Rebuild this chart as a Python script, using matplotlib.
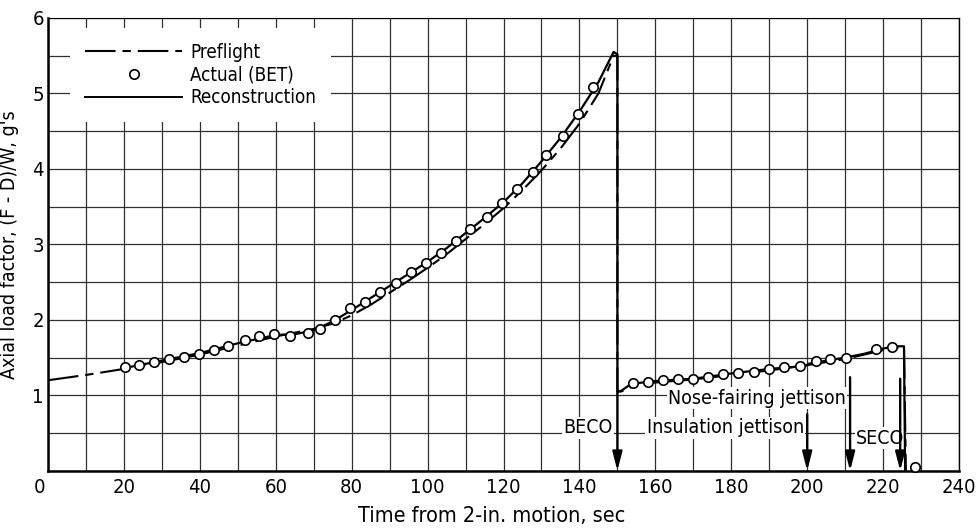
import matplotlib
matplotlib.use("Agg")
import matplotlib.pyplot as plt
import matplotlib.transforms as mtransforms
from matplotlib.lines import Line2D
import numpy as np

plt.rcParams['font.family'] = ['DejaVu Sans']
plt.rcParams['font.stretch'] = 'condensed'
plt.rcParams['lines.scale_dashes'] = False

# Actual (BET) points: time from 2-in. motion (sec) and axial load factor (g's)
actual_t = [20.3, 24, 28, 32, 35.8, 39.8, 43.6, 47.5, 51.8, 55.5, 59.5, 63.7, 68.5, 71.7,
            75.7, 79.6, 83.5, 87.5, 91.6, 95.6, 99.7, 103.5, 107.5, 111.3, 115.6, 119.5,
            123.5, 127.7, 131.3, 135.6, 139.5, 143.7,
            154, 158, 161.9, 165.9, 169.8, 173.8, 177.7, 181.8, 186, 190, 194, 198,
            202.3, 206, 210.2, 218.1, 222.3, 228.4]
actual_g = [1.37, 1.40, 1.44, 1.48, 1.51, 1.55, 1.60, 1.66, 1.73, 1.78, 1.81, 1.78, 1.83, 1.88,
            2.00, 2.16, 2.24, 2.37, 2.49, 2.64, 2.76, 2.89, 3.04, 3.20, 3.36, 3.55,
            3.73, 3.96, 4.19, 4.44, 4.73, 5.08,
            1.16, 1.18, 1.20, 1.21, 1.22, 1.24, 1.28, 1.30, 1.31, 1.35, 1.37, 1.39,
            1.46, 1.48, 1.50, 1.61, 1.64, 0.05]

# Reconstruction (solid)
recon_t = [20, 30, 40, 50, 60, 65, 70, 75, 80, 85, 90, 95, 100, 105, 110, 115, 120, 125,
           130, 135, 140, 145, 149, 150, 150, 151, 153, 155, 160, 170, 180, 190, 199.5,
           200.5, 210, 213, 215, 220, 223, 225.5, 225.8]
recon_g = [1.36, 1.46, 1.56, 1.69, 1.80, 1.81, 1.86, 1.98, 2.13, 2.29, 2.45, 2.61, 2.77,
           2.95, 3.15, 3.35, 3.56, 3.81, 4.10, 4.41, 4.76, 5.15, 5.55, 5.52, 1.05, 1.06,
           1.13, 1.16, 1.19, 1.22, 1.29, 1.35, 1.39, 1.42, 1.50, 1.53, 1.55, 1.62, 1.65,
           1.65, 0.0]

# Preflight prediction (long-short dash)
pre_t = [0, 10, 20, 30, 40, 50, 60, 70, 75, 80, 85, 90, 95, 100, 105, 110, 115, 120, 125,
         130, 135, 140, 145, 149, 150, 150, 151, 155, 160, 170, 180, 190, 200, 210, 220,
         225.5, 226]
pre_g = [1.20, 1.27, 1.35, 1.44, 1.54, 1.66, 1.78, 1.88, 1.95, 2.06, 2.20, 2.36, 2.52,
         2.69, 2.87, 3.07, 3.27, 3.48, 3.72, 3.98, 4.27, 4.60, 5.00, 5.50, 5.50, 1.05,
         1.05, 1.14, 1.17, 1.21, 1.27, 1.33, 1.40, 1.48, 1.60, 1.64, 0.0]

# Events: (label, arrow time, arrow top, label x, label y, label alignment)
events = [("BECO", 150, 1.05, 148.7, 0.57, 'right'),
          ("Insulation jettison", 200, 0.75, 157.7, 0.57, 'left'),
          ("Nose-fairing jettison", 211.3, 1.24, 163.3, 0.96, 'left'),
          ("SECO", 224.5, 1.22, 212.9, 0.43, 'left')]

pre_style = (0, (22, 5, 6, 5))

fig = plt.figure(figsize=(9.8, 5.29), dpi=100)
ax = fig.add_axes([0.049, 0.11, 0.9296, 0.856])

ax.plot(pre_t, pre_g, color='black', lw=1.5, linestyle=pre_style, zorder=5)
ax.plot(recon_t, recon_g, color='black', lw=1.6, zorder=5)
ax.plot(actual_t, actual_g, 'o', ms=6.8, mfc='white', mec='black', mew=1.2,
        zorder=6, clip_on=False)

for label, t, top, lx, ly, ha in events:
    ax.annotate('', xy=(t, 0), xytext=(t, top),
                arrowprops=dict(arrowstyle='-|>,head_length=0.7,head_width=0.18',
                                color='black', lw=1.7, mutation_scale=16,
                                shrinkA=0, shrinkB=0), zorder=4)
    ax.text(lx, ly, label, ha=ha, va='center', fontsize=14, zorder=3,
            bbox=dict(facecolor='white', edgecolor='none', pad=1))

ax.set_xlim(0, 240)
ax.set_ylim(0, 6)
ax.set_xticks(np.arange(0, 241, 20))
ax.set_xticks(np.arange(0, 241, 10), minor=True)
ax.set_yticks([1, 2, 3, 4, 5, 6])
ax.set_yticks(np.arange(0, 6.01, 0.5), minor=True)
ax.grid(True, which='both', color='#303030', lw=0.9)
ax.set_axisbelow(True)
ax.tick_params(which='both', length=0, labelsize=14.5)
ax.tick_params(axis='x', pad=5)
ax.tick_params(axis='y', pad=3)
# the corner "0" sits a little left of the axis
xlabs = ax.get_xticklabels()
xlabs[0].set_transform(xlabs[0].get_transform() +
                       mtransforms.ScaledTranslation(-9 / 100, 0, fig.dpi_scale_trans))

for side in ['left', 'bottom']:
    ax.spines[side].set_linewidth(1.8)
ax.spines['top'].set_linewidth(0.8)
ax.spines['right'].set_linewidth(1.0)

ax.set_xlabel('Time from 2-in. motion, sec', fontsize=15.5)
ax.xaxis.set_label_coords((492 - 48) / 911, -0.077)
ax.set_ylabel("Axial load factor, (F - D)/W, g's", fontsize=14)
ax.yaxis.set_label_coords(-0.032, 0.5)

handles = [Line2D([], [], color='black', lw=1.5, linestyle=pre_style),
           Line2D([], [], marker='o', ls='none', ms=6.8, mfc='white', mec='black', mew=1.2),
           Line2D([], [], color='black', lw=1.4)]
leg = ax.legend(handles, ['Preflight', 'Actual (BET)', 'Reconstruction'],
                loc='upper left', bbox_to_anchor=(0.024, 0.978), borderaxespad=0,
                fontsize=13.5, handlelength=5.2, handletextpad=0.4, labelspacing=0.2,
                borderpad=0.8, numpoints=1, frameon=True, fancybox=False,
                facecolor='white', edgecolor='none', framealpha=1)

fig.savefig('out.png', dpi=100)
